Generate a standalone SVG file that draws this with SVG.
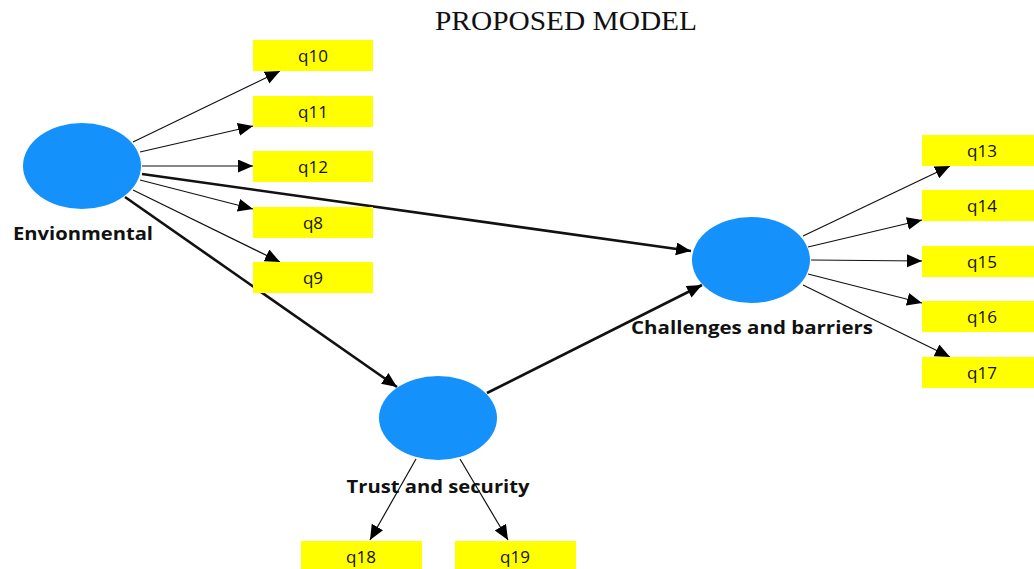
<svg xmlns="http://www.w3.org/2000/svg" width="1034" height="569" viewBox="0 0 1034 569">
<style>
.lv{fill:#1591fb}
.ind{fill:#ffff00}
.it{font-family:"Open Sans","DejaVu Sans",sans-serif;font-size:17px;fill:#111;text-anchor:middle}
.lb{font-family:"Open Sans","DejaVu Sans",sans-serif;font-size:17px;font-weight:bold;fill:#111;text-anchor:middle}
.thin{stroke:#111;stroke-width:1.2;fill:none;marker-end:url(#ah)}
.thick{stroke:#111;stroke-width:2.6;fill:none;marker-end:url(#ah)}
</style>
<defs>
<marker id="ah" markerUnits="userSpaceOnUse" markerWidth="16" markerHeight="14" refX="15" refY="6.5" orient="auto" viewBox="0 0 16 14">
<path d="M0,0 L15,6.5 L0,13 z" fill="#000"/>
</marker>
</defs>
<rect width="1034" height="569" fill="#fff"/>
<text x="566" y="30" font-family="'Liberation Serif',serif" font-size="27" textLength="262" lengthAdjust="spacingAndGlyphs" text-anchor="middle" fill="#111">PROPOSED MODEL</text>
<g id="connectors">
<line class="thin" x1="133" y1="142" x2="280" y2="71"/>
<line class="thin" x1="140" y1="152" x2="253" y2="126"/>
<line class="thin" x1="142" y1="166" x2="253" y2="166"/>
<line class="thin" x1="140" y1="180" x2="253" y2="209"/>
<line class="thin" x1="133" y1="190" x2="280" y2="262"/>
<line class="thick" x1="142" y1="174" x2="691" y2="251"/>
<line class="thick" x1="125" y1="197" x2="397" y2="387"/>
<line class="thick" x1="487" y1="393" x2="702" y2="285"/>
<line class="thin" x1="803" y1="236" x2="950" y2="166"/>
<line class="thin" x1="808" y1="247" x2="922" y2="220"/>
<line class="thin" x1="811" y1="260" x2="922" y2="261"/>
<line class="thin" x1="808" y1="274" x2="922" y2="303"/>
<line class="thin" x1="803" y1="285" x2="950" y2="357"/>
<line class="thin" x1="416" y1="459" x2="370" y2="540"/>
<line class="thin" x1="460" y1="459" x2="508" y2="540"/>
</g>
<g id="Envionmental"><ellipse class="lv" cx="82" cy="166" rx="59" ry="43"/><text class="lb" x="83" y="240" textLength="140" lengthAdjust="spacingAndGlyphs">Envionmental</text></g>
<g id="Challenges"><ellipse class="lv" cx="751" cy="260" rx="59" ry="43"/><text class="lb" x="752" y="334" textLength="242" lengthAdjust="spacingAndGlyphs">Challenges and barriers</text></g>
<g id="Trust"><ellipse class="lv" cx="438" cy="418" rx="59" ry="42"/><text class="lb" x="438" y="493" textLength="183" lengthAdjust="spacingAndGlyphs">Trust and security</text></g>
<g id="q10"><rect class="ind" x="253" y="40" width="120" height="31"/><text class="it" x="313" y="62">q10</text></g>
<g id="q11"><rect class="ind" x="253" y="96" width="120" height="31"/><text class="it" x="313" y="118">q11</text></g>
<g id="q12"><rect class="ind" x="253" y="151" width="120" height="31"/><text class="it" x="313" y="173">q12</text></g>
<g id="q8"><rect class="ind" x="253" y="207" width="120" height="31"/><text class="it" x="313" y="229">q8</text></g>
<g id="q9"><rect class="ind" x="253" y="262" width="120" height="31"/><text class="it" x="313" y="284">q9</text></g>
<g id="q13"><rect class="ind" x="922" y="135" width="120" height="31"/><text class="it" x="982" y="157">q13</text></g>
<g id="q14"><rect class="ind" x="922" y="190" width="120" height="31"/><text class="it" x="982" y="212">q14</text></g>
<g id="q15"><rect class="ind" x="922" y="246" width="120" height="31"/><text class="it" x="982" y="268">q15</text></g>
<g id="q16"><rect class="ind" x="922" y="301" width="120" height="31"/><text class="it" x="982" y="323">q16</text></g>
<g id="q17"><rect class="ind" x="922" y="357" width="120" height="31"/><text class="it" x="982" y="379">q17</text></g>
<g id="q18"><rect class="ind" x="301" y="541" width="121" height="31"/><text class="it" x="361" y="563">q18</text></g>
<g id="q19"><rect class="ind" x="455" y="541" width="121" height="31"/><text class="it" x="515" y="563">q19</text></g>
</svg>
